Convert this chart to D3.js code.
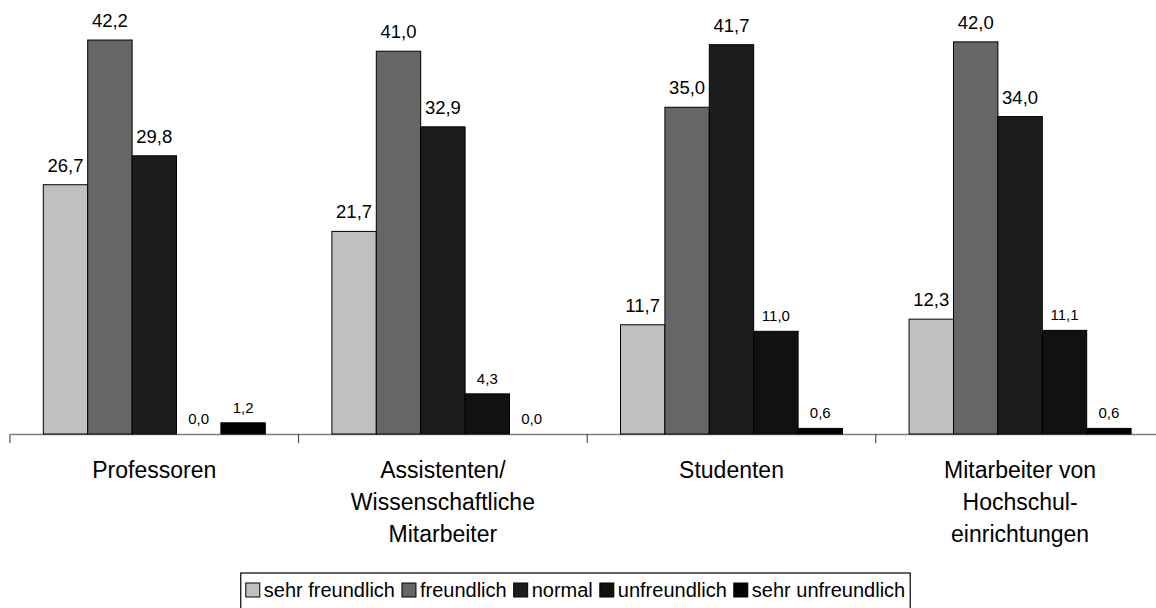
<!DOCTYPE html>
<html>
<head>
<meta charset="utf-8">
<script src="https://cdn.jsdelivr.net/npm/d3@7"></script>
<style>
  body { margin: 0; background: #fff; }
  svg { font-family: "Liberation Sans", Arial, sans-serif; }
</style>
</head>
<body>
<div id="chart"></div>
<script>
const categories = [
    ["Professoren"],
    ["Assistenten/", "Wissenschaftliche", "Mitarbeiter"],
    ["Studenten"],
    ["Mitarbeiter von", "Hochschul-", "einrichtungen"]
];
const series = ["sehr freundlich", "freundlich", "normal", "unfreundlich", "sehr unfreundlich"];
const seriesColors = ["#c0c0c0", "#666666", "#1c1c1c", "#111111", "#000000"];
// values per category, in series order
const values = [
    [26.7, 42.2, 29.8, 0.0, 1.2],
    [21.7, 41.0, 32.9, 4.3, 0.0],
    [11.7, 35.0, 41.7, 11.0, 0.6],
    [12.3, 42.0, 34.0, 11.1, 0.6]
];

let width = 1156, height = 608;
let baseY = 434;

let svg = d3.select("#chart")
    .append("svg")
    .attr("width", width)
    .attr("height", height);

let catKeys = categories.map(c => c.join(" "));

// outer scale for groups
let x0 = d3.scaleBand()
    .domain(catKeys)
    .range([10, 10 + 4 * 288.6]);

// inner scale for series within a group
let x1 = d3.scaleBand()
    .domain(series)
    .range([0, x0.bandwidth()])
    .paddingInner(0)
    .paddingOuter(0.75);

let y = d3.scaleLinear()
    .domain([0, 45])
    .range([baseY, baseY - 45 * 9.336]);

let fmt = v => d3.format(".1f")(v).replace(".", ",");

// axis
let axis = svg.append("g")
    .attr("transform", `translate(0, ${baseY})`)
    .call(d3.axisBottom(x0).tickSize(0).tickFormat(""));
axis.select(".domain").attr("stroke", "#808080").attr("stroke-width", 1.5);

// group separator ticks
let tickPos = d3.range(catKeys.length + 1).map(i => 10 + i * x0.step());
svg.selectAll("line.sep").data(tickPos).enter()
    .append("line")
    .attr("class", "sep")
    .attr("x1", d => d).attr("x2", d => d)
    .attr("y1", baseY).attr("y2", baseY + 9)
    .attr("stroke", "#333")
    .attr("stroke-width", 1);

// bars
let groups = svg.selectAll("g.grp").data(values).enter()
    .append("g")
    .attr("class", "grp")
    .attr("transform", (d, i) => `translate(${x0(catKeys[i])}, 0)`);

let cells = groups.selectAll("g.cell")
    .data(d => d.map((v, j) => ({ key: series[j], value: v, idx: j })))
    .enter().append("g").attr("class", "cell");

cells.filter(d => d.value > 0)
    .append("rect")
    .attr("x", d => x1(d.key))
    .attr("y", d => y(d.value))
    .attr("width", x1.bandwidth())
    .attr("height", d => y(0) - y(d.value))
    .attr("fill", (d) => seriesColors[d.idx])
    .attr("stroke", "#000")
    .attr("stroke-width", 1);

cells.append("text")
    .attr("x", d => x1(d.key) + x1.bandwidth() / 2)
    .attr("y", d => y(d.value) - (d.idx < 3 ? 13 : 10))
    .attr("text-anchor", "middle")
    .style("font-size", d => d.idx < 3 ? "18.5px" : "15px")
    .attr("fill", "#000")
    .text(d => fmt(d.value));

// category labels
svg.selectAll("text.cat").data(categories).enter()
    .append("text")
    .attr("class", "cat")
    .attr("text-anchor", "middle")
    .attr("x", (d, i) => x0(catKeys[i]) + x0.bandwidth() / 2)
    .attr("y", 478)
    .style("font-size", "23px")
    .selectAll("tspan").data(d => d).enter()
    .append("tspan")
    .attr("x", function() { return this.parentNode.getAttribute("x"); })
    .attr("dy", (d, i) => i === 0 ? 0 : 32)
    .text(d => d);

// legend
let legend = svg.append("g");
let lx = 0;
series.forEach((s, i) => {
    let g = legend.append("g").attr("transform", `translate(${lx}, 0)`);
    g.append("rect")
        .attr("x", 0).attr("y", -14)
        .attr("width", 14).attr("height", 14)
        .attr("fill", seriesColors[i])
        .attr("stroke", "#000");
    let t = g.append("text")
        .attr("x", 18).attr("y", 0)
        .style("font-size", "20px")
        .text(s);
    let w = t.node().getComputedTextLength();
    lx += 18 + w + 7;
});
let legendW = lx - 7;
let legendLeft = 575.5 - legendW / 2;
legend.attr("transform", `translate(${legendLeft}, 597)`);
svg.append("rect")
    .attr("x", legendLeft - 5)
    .attr("y", 573)
    .attr("width", legendW + 10)
    .attr("height", 40)
    .attr("fill", "none")
    .attr("stroke", "#000")
    .attr("stroke-width", 1.2);
</script>
</body>
</html>
